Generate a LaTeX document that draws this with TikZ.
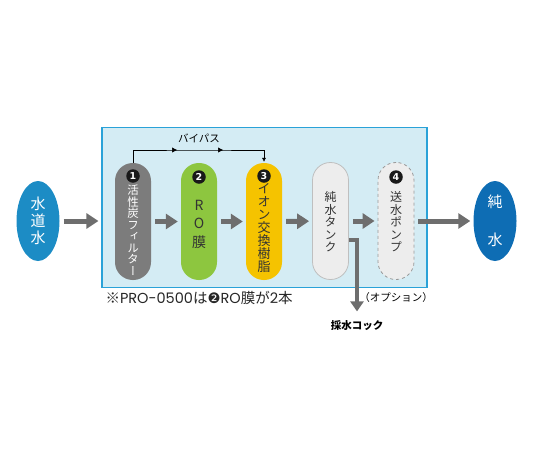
\documentclass[tikz,border=0pt]{standalone}
\usepackage{fontspec}
\setmainfont{Noto Sans CJK JP}
\newfontfamily\jpvert[RawFeature=+vert]{Noto Sans CJK JP}
\newfontfamily\dingfont{DejaVu Sans}
\newfontfamily\latinwide{Poppins}
\usetikzlibrary{arrows.meta,decorations.markings,shapes.geometric}

\definecolor{boxfill}{HTML}{D4ECF4}
\definecolor{boxline}{HTML}{2AA2D8}
\definecolor{carbon}{HTML}{7C7C7C}
\definecolor{rogreen}{HTML}{8DC63F}
\definecolor{ionyellow}{HTML}{F5C300}
\definecolor{tankgray}{HTML}{EDEDED}
\definecolor{tapblue}{HTML}{1C8CC5}
\definecolor{pureblue}{HTML}{0E6DB4}
\definecolor{flowgray}{HTML}{6E6E6E}

\tikzset{
  capsule/.style={rounded corners=17.8pt, minimum width=36pt, minimum height=117pt, inner sep=0pt},
  captext/.style={align=center, inner sep=0pt, text=black!80},
  numdot/.style={circle, fill=black!90, text=white, inner sep=0pt, minimum size=13.5pt,
    font=\dingfont\bfseries\fontsize{9.5}{9.5}\selectfont},
  water/.style={ellipse, fill=#1, text=white, minimum width=43pt, minimum height=80pt,
    inner sep=0pt, align=center},
  flow/.style={line width=5pt, draw=flowgray, -{Triangle[length=12pt,width=15pt]},
    shorten <=4pt, shorten >=3pt},
  tapflow/.style={line width=4pt, draw=flowgray, -{Triangle[length=10pt,width=13pt]}},
  bypass/.style={thin, black, -{Latex[length=4pt,width=4pt]}, shorten >=1pt,
    postaction={decorate}, decoration={markings,
      mark=at position 57pt with {\arrow{Latex[length=5pt,width=5pt]}},
      mark=at position 103pt with {\arrow{Latex[length=5pt,width=5pt]}}}}
}

\begin{document}
\begin{tikzpicture}[x=1pt,y=-1pt]
		%%%%% START %%%%%
		\useasboundingbox (0,0) rectangle (540,450);
		
		\node[draw=boxline, fill=boxfill, line width=1.2pt, minimum width=325pt, minimum height=160pt] (box) at (264.5,207.5) {};
		
		\node[water=tapblue, font=\jpvert\fontsize{15}{17}\selectfont] (tapwater) at (38,221) {水\\道\\水};
		\node[water=pureblue, font=\jpvert\fontsize{15}{38}\selectfont] (purewater) at (495,221) {純\\水};
		
		\node[capsule, fill=carbon] (c1) at (133,221.5) {};
		\node[capsule, fill=rogreen] (c2) at (199,221.5) {};
		\node[capsule, fill=ionyellow] (c3) at (264,221.5) {};
		\node[capsule, fill=tankgray, draw=black!25, line width=0.8pt] (tank) at (330.5,221) {};
		\node[capsule, fill=tankgray, draw=black!40, line width=0.8pt, dashed] (pump) at (396,221) {};
		
		\node[numdot] (n1) at (133,176) {1};
		\node[numdot] (n2) at (199,177) {2};
		\node[numdot] (n3) at (264,176) {3};
		\node[numdot] (n4) at (396,177) {4};
		
		\node[captext, text=white, font=\jpvert\fontsize{11.5}{11.5}\selectfont] (t1) at (133,230) {活\\性\\炭\\フ\\ィ\\ル\\タ\\ー};
		\node[captext, font=\jpvert\fontsize{14}{18.5}\selectfont] (t2) at (199,224) {R\\O\\膜};
		\node[captext, font=\jpvert\fontsize{13}{13}\selectfont] (t3) at (264,228) {イ\\オ\\ン\\交\\換\\樹\\脂};
		\node[captext, font=\jpvert\fontsize{12}{12.5}\selectfont] (t4) at (330.5,222) {純\\水\\タ\\ン\\ク};
		\node[captext, font=\jpvert\fontsize{12}{12.5}\selectfont] (t5) at (396,222) {送\\水\\ポ\\ン\\プ};
		
		\draw[flow] (tapwater.east) -- (tapwater.east -| box.west);
		\draw[flow] (c1) -- (c2);
		\draw[flow] (c2) -- (c3);
		\draw[flow] (c3) -- (tank);
		\draw[flow] (tank) -- (pump);
		\draw[flow] (pump) -- (purewater);
		
		\node[font=\fontsize{10.5}{10.5}\selectfont] (bypassl) at (199,138) {バイパス};
		\coordinate (byline) at (199,150);
		\draw[bypass] (c1.north) |- (byline) -| (c3.north);
		
		\node[font=\fontsize{10.5}{10.5}\selectfont\bfseries] (tapl) at (357,326) {採水コック};
		\coordinate (tapcorner) at (357,240);
		\draw[tapflow] (tank.east |- tapcorner) -- (tapcorner) -- ([yshift=6pt]tapl.north);
		
		\node[anchor=west, font=\fontsize{14.5}{14.5}\selectfont, text=black!85] (note) at (102,298) {※{\latinwide PRO-0500}は{\dingfont ❷}{\latinwide RO}膜が{\latinwide 2}本};
		\node[font=\fontsize{10.5}{10.5}\selectfont] (optl) at (396,298) {（オプション）};
		
		%%%%% END %%%%%
	\end{tikzpicture}
\end{document}
